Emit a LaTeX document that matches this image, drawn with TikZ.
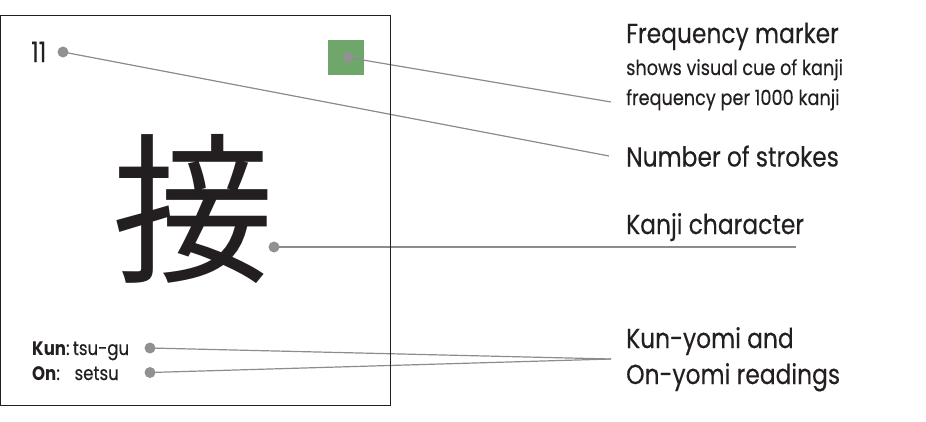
\documentclass[tikz,border=0pt]{standalone}
\usepackage{fontspec}
\usetikzlibrary{backgrounds}
\setmainfont{Poppins}[FakeStretch=0.85,UprightFeatures={FakeBold=0.3}]
\newfontfamily\cjkfont{Noto Sans CJK JP}
\definecolor{ink}{HTML}{231F20}
\definecolor{dotgray}{HTML}{919191}
\definecolor{linegray}{HTML}{8C8C8C}
\definecolor{freqgreen}{HTML}{6FA76B}
\begin{document}
\begin{tikzpicture}[x=1pt,y=-1pt,
  dot/.style={circle,fill=dotgray,inner sep=0pt,minimum size=11pt},
  lead/.style={draw=linegray,line width=1.2pt},
  heading/.style={anchor=base west,inner sep=0pt,font=\fontsize{27.5}{32}\selectfont,text=ink},
  subtext/.style={anchor=base west,inner sep=0pt,font=\fontsize{20.8}{24}\selectfont,text=ink},
  reading/.style={anchor=base west,inner sep=0pt,font=\fontsize{19.5}{22}\selectfont,text=ink}]
\useasboundingbox (0,0) rectangle (926,421);
% card
\draw[ink,line width=1pt] (0.5,15) rectangle (390,405);
% card contents
\node[anchor=base west,inner sep=0pt,font=\fontsize{28}{32}\selectfont,text=ink] (strokes) at (31,62) {11};
\node[inner sep=0pt,font=\cjkfont\fontsize{162}{170}\selectfont,text=ink] (kanji) at (193,209) {接};
\node[reading] (kun) at (32,355) {\textbf{Kun}:\,tsu-gu};
\node[reading] (on) at (32,380) {\textbf{On}:\hspace{0.75em}setsu};
% dots
\node[dot] (dstrokes) at (63,52) {};
\node[dot] (dmarker) at (348,57.5) {};
\node[dot] (dkanji) at (274,247) {};
\node[dot] (dkun) at (150,348) {};
\node[dot] (don) at (150,372.5) {};
% labels
\node[heading] (lfreq) at (626,43) {Frequency marker};
\node[subtext] (lfreq2) at (626,75) {shows visual cue of kanji};
\node[subtext] (lfreq3) at (626,105) {frequency per 1000 kanji};
\node[heading] (lstrokes) at (626,166.5) {Number of strokes};
\node[heading] (lkanji) at (626,234) {Kanji character};
\node[heading] (lread1) at (626,348) {Kun-yomi and};
\node[heading] (lread2) at (626,384) {On-yomi readings};
% connector ends
\coordinate (efreq) at (611,102);
\coordinate (estrokes) at (609,156);
\coordinate (ekanji) at (796,247);
\coordinate (eread) at (611,359);
% marker and connectors behind the dots
\begin{pgfonlayer}{background}
\node[fill=freqgreen,minimum width=36pt,minimum height=35pt,inner sep=0pt] (marker) at (346,57.5) {};
\draw[lead] (dstrokes.center) -- (estrokes);
\draw[lead] (dmarker.center) -- (efreq);
\draw[lead,line width=2pt] (dkanji.center) -- (ekanji);
\draw[lead] (dkun.center) -- (eread);
\draw[lead] (don.center) -- (eread);
\end{pgfonlayer}
\end{tikzpicture}
\end{document}
